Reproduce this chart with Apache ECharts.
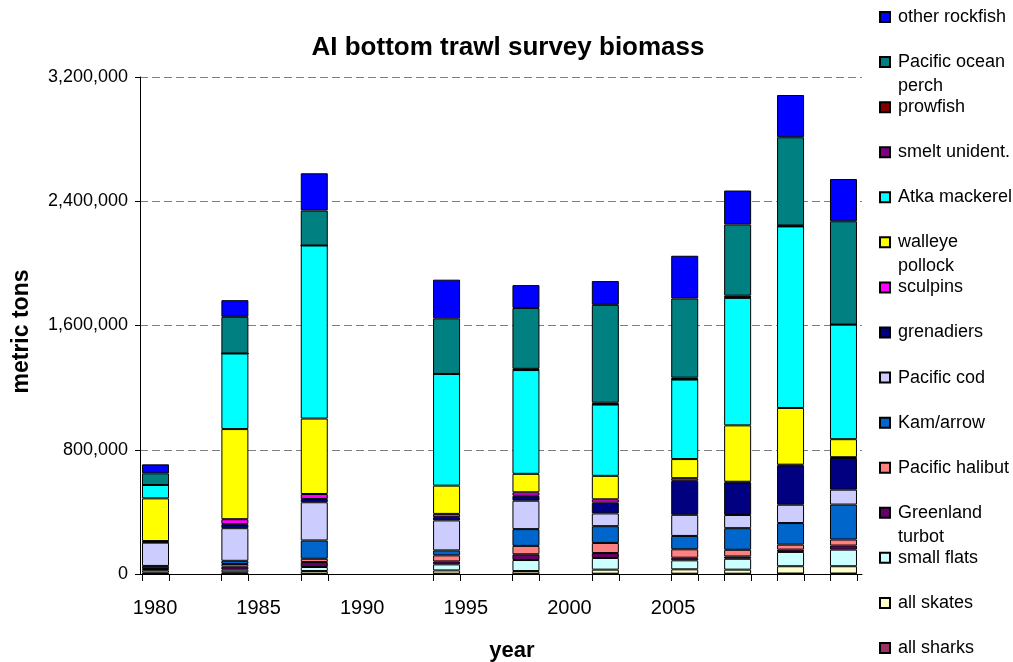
<!DOCTYPE html>
<html><head><meta charset="utf-8">
<script src="https://cdn.jsdelivr.net/npm/echarts@6/dist/echarts.min.js"></script>
<style>html,body{margin:0;padding:0;background:#fff}#c{width:1013px;height:662px}</style>
</head><body><div id="c"></div>
<script>
// survey years (bar positions)
const years = [1980, 1983, 1986, 1991, 1994, 1997, 2000, 2002, 2004, 2006];
// x-axis tick labels as printed
const yearTickLabels = [1980, 1985, 1990, 1995, 2000, 2005];

// biomass (metric tons), stacked bottom to top
const allSharks       = [1000, 1000, 2000, 2000, 2000, 2000, 2000, 2000, 3000, 3000];
const allSkates       = [8000, 10000, 17000, 21000, 17000, 26000, 28000, 26000, 47000, 47000];
const smallFlats      = [15000, 17000, 26000, 39000, 71000, 75000, 58000, 70000, 92000, 107000];
const greenlandTurbot = [8000, 19000, 32000, 19000, 37000, 32000, 17000, 15000, 15000, 26000];
const pacificHalibut  = [5000, 17000, 21000, 39000, 54000, 65000, 54000, 43000, 32000, 39000];
const kamArrow        = [15000, 21000, 118000, 32000, 108000, 108000, 86000, 139000, 139000, 225000];
const pacificCod      = [150000, 210000, 246000, 193000, 183000, 82000, 136000, 85000, 118000, 96000];
const grenadiers      = [5000, 26000, 21000, 21000, 32000, 69000, 219000, 209000, 253000, 204000];
const sculpins        = [5000, 32000, 32000, 21000, 22000, 22000, 17000, 5000, 5000, 5000];
const walleyePollock  = [275000, 580000, 486000, 182000, 119000, 151000, 123000, 363000, 365000, 116000];
const atkaMackerel    = [86000, 487000, 1114000, 719000, 668000, 459000, 512000, 821000, 1169000, 738000];
const smeltUnident    = [0, 0, 0, 0, 2000, 2000, 2000, 2000, 2000, 0];
const prowfish        = [0, 0, 0, 0, 6000, 10000, 10000, 12000, 4000, 0];
const pacificOceanPerch = [75000, 236000, 225000, 358000, 392000, 630000, 510000, 459000, 568000, 665000];
const otherRockfish   = [58000, 107000, 240000, 249000, 147000, 153000, 275000, 218000, 272000, 272000];

// series names bottom to top
const seriesNames = ['all sharks', 'all skates', 'small flats', 'Greenland turbot', 'Pacific halibut',
  'Kam/arrow', 'Pacific cod', 'grenadiers', 'sculpins', 'walleye pollock', 'Atka mackerel',
  'smelt unident.', 'prowfish', 'Pacific ocean perch', 'other rockfish'];
const seriesValues = [allSharks, allSkates, smallFlats, greenlandTurbot, pacificHalibut, kamArrow,
  pacificCod, grenadiers, sculpins, walleyePollock, atkaMackerel, smeltUnident, prowfish,
  pacificOceanPerch, otherRockfish];
const seriesColors = ['#993366', '#FFFFCC', '#CCFFFF', '#660066', '#FF8080', '#0066CC', '#CCCCFF',
  '#000080', '#FF00FF', '#FFFF00', '#00FFFF', '#800080', '#800000', '#008080', '#0000FF'];

// legend (top to bottom) with its printed line breaks
const legendOrder = ['other rockfish', 'Pacific ocean perch', 'prowfish', 'smelt unident.', 'Atka mackerel',
  'walleye pollock', 'sculpins', 'grenadiers', 'Pacific cod', 'Kam/arrow', 'Pacific halibut',
  'Greenland turbot', 'small flats', 'all skates', 'all sharks'];
const legendText = ['other rockfish', 'Pacific ocean\nperch', 'prowfish', 'smelt unident.', 'Atka mackerel',
  'walleye\npollock', 'sculpins', 'grenadiers', 'Pacific cod', 'Kam/arrow', 'Pacific halibut',
  'Greenland\nturbot', 'small flats', 'all skates', 'all sharks'];

const FONT = 'Arial, "Liberation Sans", sans-serif';

const series = seriesNames.map((name, i) => ({
  name: name,
  type: 'bar',
  stack: 'total',
  xAxisIndex: 0,
  barWidth: 27,
  dimensions: ['biomass', 'year'],
  encode: { x: 'year', y: 'biomass' },
  itemStyle: { color: seriesColors[i], borderColor: '#000', borderWidth: 1 },
  emphasis: { disabled: true },
  data: years.map((y, j) => [seriesValues[i][j], y])
}));

const legends = legendOrder.map((name, i) => {
  const twoLine = legendText[i].indexOf('\n') >= 0;
  const iconY = 17 + i * 45.07;
  return {
    orient: 'vertical',
    left: 879,
    top: twoLine ? iconY - 36 : iconY - 12,
    padding: 0,
    itemGap: 0,
    itemWidth: 10,
    itemHeight: 10,
    icon: 'rect',
    selectedMode: false,
    data: [name],
    formatter: () => (twoLine ? '\n' : '') + legendText[i],
    textStyle: { fontFamily: FONT, fontSize: 18, lineHeight: 24, color: '#000', padding: [0, 0, 0, 3] }
  };
});

const barEdges = [];
years.forEach(y => { barEdges.push(y - 0.51, y + 0.51); });

const chart = echarts.init(document.getElementById('c'), null, { renderer: 'canvas' });
chart.setOption({
  animation: false,
  backgroundColor: '#fff',
  title: {
    text: 'AI bottom trawl survey biomass',
    left: 503, top: 30, textAlign: 'center',
    textStyle: { fontFamily: FONT, fontSize: 26, fontWeight: 'bold', color: '#000' }
  },
  legend: legends,
  grid: { left: 140, right: 151, top: 77, bottom: 88, containLabel: false, outerBoundsMode: 'none' },
  xAxis: [{
    type: 'value', min: 1979.414, max: 2006.70, position: 'bottom',
    axisLine: { show: true, onZero: false, lineStyle: { color: '#000', width: 1 } },
    axisTick: { show: true, customValues: barEdges, length: 7, lineStyle: { color: '#000' } },
    axisLabel: { show: false },
    splitLine: { show: false },
    name: 'year', nameLocation: 'middle', nameGap: 66,
    nameTextStyle: { fontFamily: FONT, fontSize: 22, fontWeight: 'bold', color: '#000', padding: [0, 0, 0, 22] }
  }, {
    type: 'value', min: 1979.276, max: 2014.12, position: 'bottom',
    axisLine: { show: false, onZero: false },
    axisTick: { show: false },
    axisLabel: { show: true, customValues: yearTickLabels, margin: 24,
      fontFamily: FONT, fontSize: 20, color: '#000', formatter: v => String(v) },
    splitLine: { show: false }
  }],
  yAxis: {
    type: 'value', min: 0, max: 3200000, interval: 800000,
    axisLine: { show: true, lineStyle: { color: '#000', width: 1 } },
    axisTick: { show: true, length: 5, lineStyle: { color: '#000' } },
    axisLabel: { margin: 12, fontFamily: FONT, fontSize: 18, color: '#000',
      formatter: v => v.toLocaleString('en-US') },
    splitLine: { show: true, lineStyle: { color: '#808080', type: [8, 4], width: 1 } },
    name: 'metric tons', nameLocation: 'middle', nameRotate: 90, nameGap: 107,
    nameTextStyle: { fontFamily: FONT, fontSize: 23, fontWeight: 'bold', color: '#000', padding: [0, 12, 0, 0] }
  },
  series: series
});
</script>
</body></html>
